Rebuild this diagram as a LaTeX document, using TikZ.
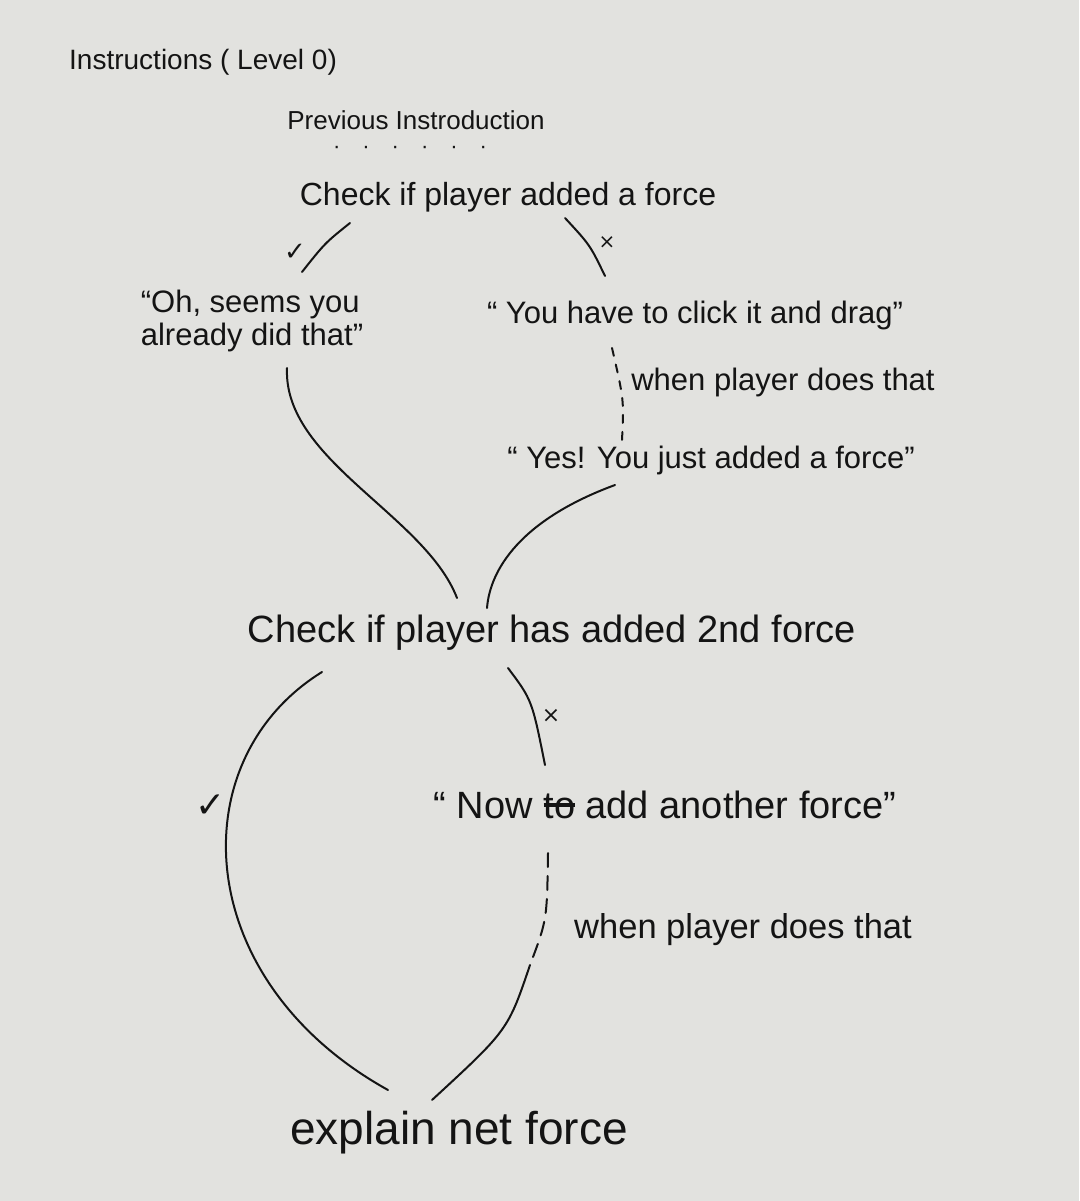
\documentclass[tikz,border=0pt]{standalone}
\usepackage{fontspec}
\setmainfont{Liberation Sans}
\newfontfamily\symfont{DejaVu Sans}
\usetikzlibrary{calc}
\definecolor{paper}{RGB}{226,226,223}
\definecolor{ink}{RGB}{20,20,20}
\newcommand{\fs}[1]{\fontsize{#1}{1.15\dimexpr#1pt\relax}\selectfont}
\newcommand{\strike}[1]{\setbox0\hbox{#1}\rlap{\rule[0.3em]{\wd0}{0.1em}}\box0\relax}

\begin{document}
\begin{tikzpicture}[x=1pt,y=-1pt,
  hand/.style={inner sep=1pt, text=ink},
  link/.style={draw=ink, line width=2pt, line cap=round}]
 \fill[paper] (0,0) rectangle (1079,1201);
 \useasboundingbox (0,0) rectangle (1079,1201);

 % texts
 \node[hand, anchor=west] (title) at (68,62) {\fs{28}Instructions ( Level 0)};
 \node[hand] (prev) at (416,120) {\fs{26}Previous Instroduction};
 \node[hand, inner sep=0pt] (dots) at (410,150) {\fs{22}·\quad·\quad·\quad·\quad·\quad·};
 \node[hand] (check1) at (508,197) {\fs{32}Check if player added a force};
 \node[hand, align=left] (ohyes) at (252,321) {\fs{31}“Oh, seems you\\[3pt]\fs{31}already did that”};
 \node[hand] (click) at (695,315) {\fs{31}“ You have to click it and drag”};
 \node[hand] (when1) at (783,382) {\fs{31}when player does that};
 \node[hand] (yes) at (711,460) {\fs{31}“ Yes! You just added a force”};
 \node[hand] (check2) at (552,633) {\fs{38}Check if player has added 2nd force};
 \node[hand] (now) at (665,805) {\fs{38}“ Now \strike{to} add another force”};
 \node[hand] (when2) at (743,930) {\fs{34.5}when player does that};
 \node[hand] (explain) at (459,1133) {\fs{46}explain net force};

 % marks
 \node[hand] (yes1) at (295,252) {\symfont\fs{26}✓};
 \node[hand] (no1) at (607,243) {\symfont\fs{20}×};
 \node[hand] (no2) at (551,716) {\symfont\fs{22}×};
 \node[hand] (yes2) at (211,806) {\symfont\fs{36}✓};

 % free ends on the curves
 \coordinate (c1a) at (350,223);
 \coordinate (c1b) at (302,272);
 \coordinate (c2a) at (565,218);
 \coordinate (c2b) at (605,276);
 \coordinate (c3a) at (612,348);
 \coordinate (c3b) at (622,440);
 \coordinate (c4a) at (287,368);
 \coordinate (c4b) at (457,598);
 \coordinate (c5a) at (615,485);
 \coordinate (c5b) at (487,608);
 \coordinate (c6a) at (322,672);
 \coordinate (c6b) at (388,1090);
 \coordinate (c7a) at (508,668);
 \coordinate (c7b) at (545,765);
 \coordinate (c8a) at (548,853);
 \coordinate (c8m) at (530,965);
 \coordinate (c8b) at (432,1100);

 % connectors
 \draw[link] (c1a) .. controls (325,243) .. (c1b);
 \draw[link] (c2a) .. controls (590,245) .. (c2b);
 \draw[link, dash pattern=on 8pt off 9pt] (c3a) .. controls (624,400) .. (c3b);
 \draw[link] (c4a) .. controls (283,460) and (425,515) .. (c4b);
 \draw[link] (c5a) .. controls (520,520) and (490,570) .. (c5b);
 \draw[link] (c6a) .. controls (180,760) and (190,980) .. (c6b);
 \draw[link] (c7a) .. controls (532,700) .. (c7b);
 \draw[link, dash pattern=on 14pt off 9pt] (c8a) .. controls (547,920) .. (c8m);
 \draw[link] (c8m) .. controls (508,1030) .. (c8b);
\end{tikzpicture}
\end{document}
